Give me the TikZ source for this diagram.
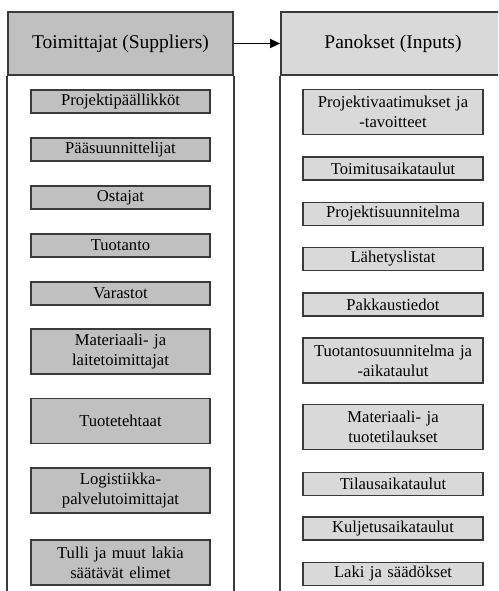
\documentclass[tikz,border=0pt]{standalone}
\usepackage{fontspec}
\setmainfont{Liberation Serif}
\usetikzlibrary{arrows.meta}
\definecolor{darkgrey}{HTML}{C0C0C0}
\definecolor{lightgrey}{HTML}{D9D9D9}
\definecolor{edge}{HTML}{3A3A3A}
\tikzset{
  head/.style={draw=edge, line width=1.6pt, minimum height=63pt, inner sep=0pt,
               font=\rmfamily\fontsize{19.5}{22}\selectfont},
  supphead/.style={head, fill=darkgrey, minimum width=225pt},
  inphead/.style={head, fill=lightgrey, minimum width=224pt},
  item/.style={draw=edge, line width=1.6pt, inner sep=0pt, align=center,
               font=\rmfamily\fontsize{16.6}{20}\selectfont},
  suppitem/.style={item, fill=darkgrey, minimum width=179pt, text width=175pt},
  inpitem/.style={item, fill=lightgrey, minimum width=180pt, text width=176pt},
  single/.style={minimum height=23pt},
  double/.style={minimum height=45pt},
  column/.style={draw=edge, line width=1.6pt},
  flow/.style={draw=black, line width=1.3pt, -{Triangle[length=10pt,width=9pt]}}
}
\begin{document}
\begin{tikzpicture}[x=1pt,y=-1pt]
\useasboundingbox (0,0) rectangle (498,591);
\clip (0,0) rectangle (498,591);

% column headers
\node[supphead] (sup) at (120.5,43.5) {Toimittajat (Suppliers)};
\node[inphead]  (inp) at (393,43.5) {Panokset (Inputs)};

% column bodies, open at the bottom
\draw[column] (sup.south west) -- ++(0,540);
\draw[column] (sup.south east) -- ++(0,540);
\draw[column] (inp.south west) -- ++(0,540);
\draw[column] (inp.south east) -- ++(0,540);

% link between the headers
\draw[flow] (sup.east) -- (inp.west);

% suppliers
\node[suppitem,single] (s1) at (120.5,101.5) {Projektipäällikköt};
\node[suppitem,single] (s2) at (120.5,149.5) {Pääsuunnittelijat};
\node[suppitem,single] (s3) at (120.5,197.5) {Ostajat};
\node[suppitem,single] (s4) at (120.5,245.5) {Tuotanto};
\node[suppitem,single] (s5) at (120.5,293.5) {Varastot};
\node[suppitem,double] (s6) at (120.5,351.5) {Materiaali- ja\\laitetoimittajat};
\node[suppitem,double] (s7) at (120.5,421) {Tuotetehtaat};
\node[suppitem,double] (s8) at (120.5,490.5) {Logistiikka-\\palvelutoimittajat};
\node[suppitem,double] (s9) at (120.5,562.5) {Tulli ja muut lakia\\säätävät elimet};

% inputs
\node[inpitem,double] (i1) at (393,112) {Projektivaatimukset ja\\-tavoitteet};
\node[inpitem,single] (i2) at (393,168.5) {Toimitusaikataulut};
\node[inpitem,single] (i3) at (393,214) {Projektisuunnitelma};
\node[inpitem,single] (i4) at (393,259) {Lähetyslistat};
\node[inpitem,single] (i5) at (393,304.5) {Pakkaustiedot};
\node[inpitem,double] (i6) at (393,360.5) {Tuotantosuunnitelma ja\\-aikataulut};
\node[inpitem,double] (i7) at (393,427) {Materiaali- ja\\tuotetilaukset};
\node[inpitem,single] (i8) at (393,484) {Tilausaikataulut};
\node[inpitem,single] (i9) at (393,528.5) {Kuljetusaikataulut};
\node[inpitem,single] (i10) at (393,574) {Laki ja säädökset};
\end{tikzpicture}
\end{document}
